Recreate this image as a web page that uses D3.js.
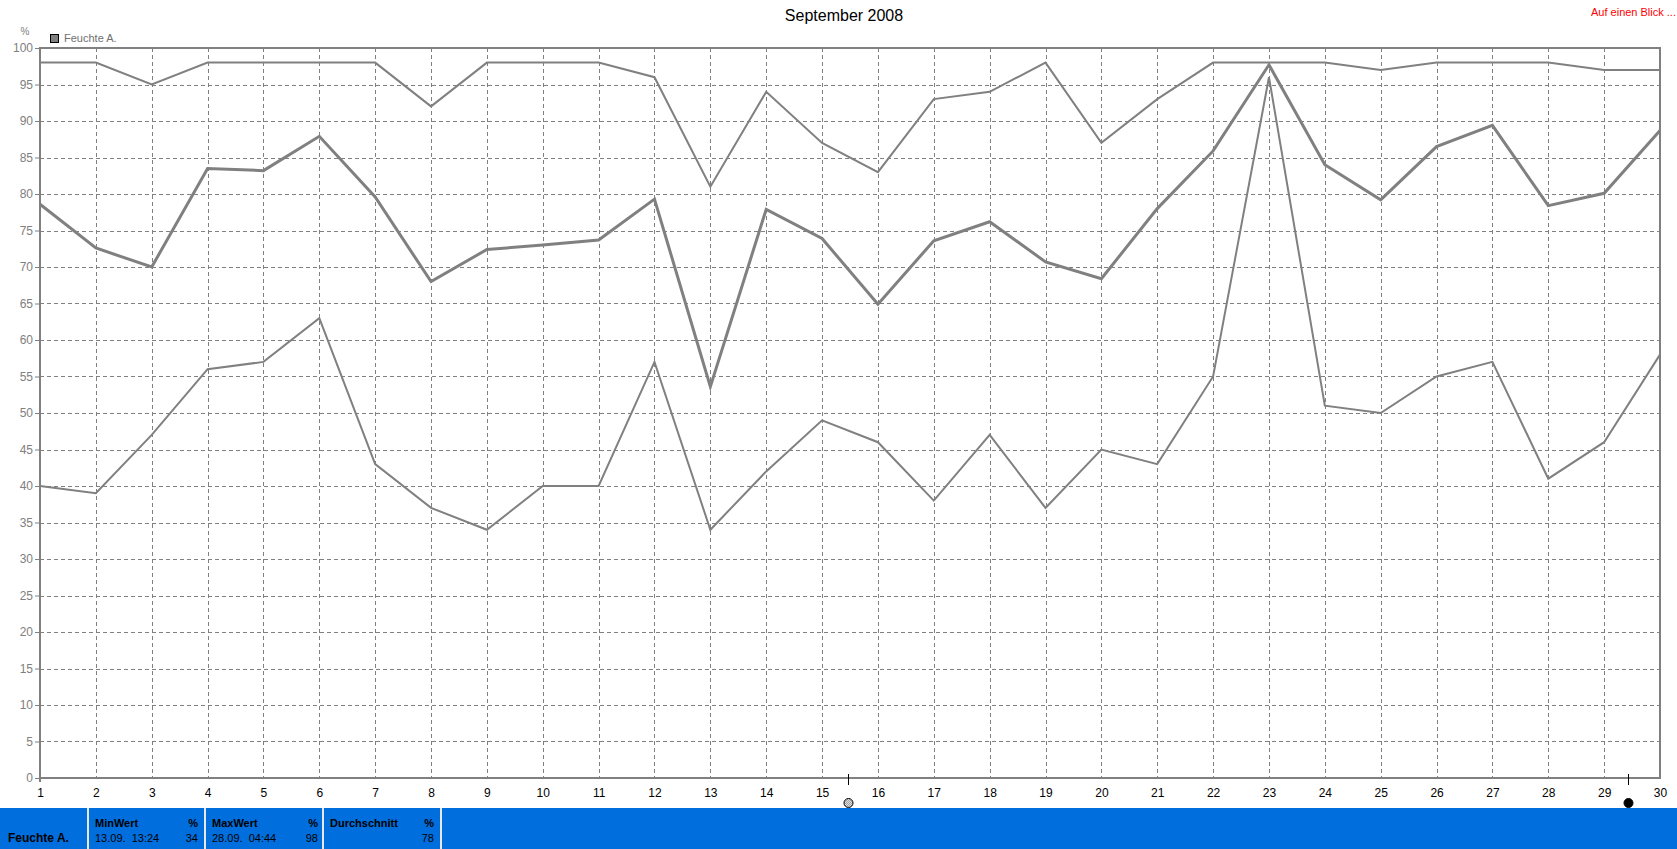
<!DOCTYPE html>
<html>
<head>
<meta charset="utf-8">
<script src="https://cdn.jsdelivr.net/npm/d3@7"></script>
<style>
html,body{margin:0;padding:0;background:#fff;}
svg{display:block;font-family:"Liberation Sans",Arial,sans-serif;}
</style>
</head>
<body>
<svg id="chart" width="1677" height="849"></svg>
<script>
// ---- data ----
const days = d3.range(1, 31);
const maxValues  = [98,98,95,98,98,98,98,92,98,98,98,96,81,94,87,83,93,94,98,87,93,98,98,98,97,98,98,98,97,97];
const meanValues = [78.6,72.6,70.0,83.5,83.2,87.9,79.6,68.0,72.4,73.0,73.7,79.3,53.6,77.9,73.9,64.9,73.6,76.2,70.7,68.4,78.0,85.9,97.7,84.0,79.2,86.5,89.4,78.4,80.1,88.7];
const minValues  = [40,39,47,56,57,63,43,37,34,40,40,57,34,42,49,46,38,47,37,45,43,55,96,51,50,55,57,41,46,58];
const yTicks = d3.range(0, 101, 5);
const moonPhases = [{day: 15.46, type: "full"}, {day: 29.43, type: "new"}];
const title = "September 2008";
const seriesName = "Feuchte A.";
const unit = "%";
const statBoxes = [
  {head: "MinWert", unit: "%", date: "13.09.  13:24", value: "34"},
  {head: "MaxWert", unit: "%", date: "28.09.  04:44", value: "98"},
  {head: "Durchschnitt", unit: "%", date: "", value: "78"}
];

// ---- layout ----
const svg = d3.select("#chart");
const W = 1677, H = 849;
const L = 40, R = 1660, T = 48, B = 778;
const x = d3.scaleLinear().domain([1, 30]).range([L, R]);
const y = d3.scaleLinear().domain([0, 100]).range([B, T]);
const gray = "#808080";

// defs: hatch pattern for full moon
const defs = svg.append("defs");
const pat = defs.append("pattern").attr("id","hatch").attr("width",2).attr("height",2).attr("patternUnits","userSpaceOnUse");
pat.append("rect").attr("width",2).attr("height",2).attr("fill","#e0e0e0");
pat.append("rect").attr("width",1).attr("height",1).attr("fill","#a0a0a0");
pat.append("rect").attr("x",1).attr("y",1).attr("width",1).attr("height",1).attr("fill","#a0a0a0");

// title
svg.append("text").attr("x", 844).attr("y", 21).attr("text-anchor","middle")
  .attr("font-size", 16).attr("fill","#000").text(title);
svg.append("text").attr("x", 1676).attr("y", 16).attr("text-anchor","end")
  .attr("font-size", 11).attr("fill","#ff0000").text("Auf einen Blick ...");

// unit label and legend
svg.append("text").attr("x", 25).attr("y", 35).attr("text-anchor","middle")
  .attr("font-size", 10).attr("fill", gray).text(unit);
svg.append("rect").attr("x", 50.5).attr("y", 34.5).attr("width", 8).attr("height", 8)
  .attr("fill", gray).attr("stroke","#000").attr("stroke-width",1);
svg.append("text").attr("x", 64).attr("y", 42).attr("font-size", 11).attr("fill", "#707070").text(seriesName);

// grid
const grid = svg.append("g");
grid.selectAll("line.h").data(yTicks.filter(d => d > 0 && d < 100)).enter().append("line")
  .attr("x1", L).attr("x2", R).attr("y1", d => Math.round(y(d)) + 0.5).attr("y2", d => Math.round(y(d)) + 0.5)
  .attr("stroke", gray).attr("stroke-width", 1).attr("stroke-dasharray", "4,3");
grid.selectAll("line.v").data(days.filter(d => d > 1 && d < 30)).enter().append("line")
  .attr("y1", T).attr("y2", B).attr("x1", d => Math.round(x(d)) + 0.5).attr("x2", d => Math.round(x(d)) + 0.5)
  .attr("stroke", gray).attr("stroke-width", 1).attr("stroke-dasharray", "4,3");

// y axis
const yAxis = d3.axisLeft(y).tickValues(yTicks).tickSize(5).tickPadding(2);
const gy = svg.append("g").attr("transform", `translate(${L},0)`).call(yAxis);
gy.select(".domain").remove();
gy.selectAll(".tick line").attr("stroke", gray);
gy.selectAll(".tick text").attr("fill", gray).attr("font-size", 12).attr("font-family", "Liberation Sans, Arial, sans-serif");

// x axis
const xAxis = d3.axisBottom(x).tickValues(days).tickSize(0).tickPadding(10);
const gx = svg.append("g").attr("transform", `translate(0,${B})`).call(xAxis);
gx.select(".domain").remove();
gx.selectAll(".tick text").attr("fill", "#000").attr("font-size", 12).attr("font-family", "Liberation Sans, Arial, sans-serif");

// frame
svg.append("rect").attr("x", L).attr("y", T).attr("width", R - L).attr("height", B - T)
  .attr("fill", "none").attr("stroke", gray).attr("stroke-width", 2);
svg.append("line").attr("x1", L).attr("x2", L).attr("y1", B).attr("y2", B + 4).attr("stroke", gray).attr("stroke-width", 2);

// series lines
const line = d3.line().x((d, i) => x(days[i])).y(d => y(d));
svg.append("path").datum(maxValues).attr("d", line).attr("fill","none").attr("stroke", gray).attr("stroke-width", 2).attr("stroke-linejoin","miter");
svg.append("path").datum(minValues).attr("d", line).attr("fill","none").attr("stroke", gray).attr("stroke-width", 2).attr("stroke-linejoin","miter");
svg.append("path").datum(meanValues).attr("d", line).attr("fill","none").attr("stroke", gray).attr("stroke-width", 3).attr("stroke-linejoin","miter");

// moon phase markers
const moons = svg.append("g");
moons.selectAll("line").data(moonPhases).enter().append("line")
  .attr("x1", d => Math.round(x(d.day)) + 0.5).attr("x2", d => Math.round(x(d.day)) + 0.5)
  .attr("y1", B - 4).attr("y2", B + 7).attr("stroke", "#000").attr("stroke-width", 1);
moons.selectAll("circle").data(moonPhases).enter().append("circle")
  .attr("cx", d => Math.round(x(d.day)) + 0.5).attr("cy", 803).attr("r", 4.5)
  .attr("fill", d => d.type === "full" ? "url(#hatch)" : "#000")
  .attr("stroke", "#000").attr("stroke-width", 1);

// bottom stats bar
const barY = 808;
const blue = "#006EDC";
svg.append("rect").attr("x", 0).attr("y", barY).attr("width", W).attr("height", H - barY).attr("fill", blue);
const seps = [87, 204, 322, 440];
svg.selectAll("rect.sep").data(seps).enter().append("rect")
  .attr("x", d => d).attr("y", barY).attr("width", 2).attr("height", H - barY).attr("fill", "#e8e8e8");
svg.append("text").attr("x", 8).attr("y", 842).attr("font-size", 12).attr("font-weight", "bold")
  .attr("fill", "#000").text(seriesName);
const boxX = [[95, 198], [212, 318], [330, 434]];
statBoxes.forEach((b, i) => {
  const [x0, x1] = boxX[i];
  svg.append("text").attr("x", x0).attr("y", 827).attr("font-size", 11).attr("font-weight", "bold").attr("fill", "#000").text(b.head);
  svg.append("text").attr("x", x1).attr("y", 827).attr("text-anchor", "end").attr("font-size", 11).attr("font-weight", "bold").attr("fill", "#000").text(b.unit);
  if (b.date) svg.append("text").attr("x", x0).attr("y", 842).attr("font-size", 11).attr("fill", "#000").style("white-space","pre").text(b.date);
  svg.append("text").attr("x", x1).attr("y", 842).attr("text-anchor", "end").attr("font-size", 11).attr("fill", "#000").text(b.value);
});
</script>
</body>
</html>
